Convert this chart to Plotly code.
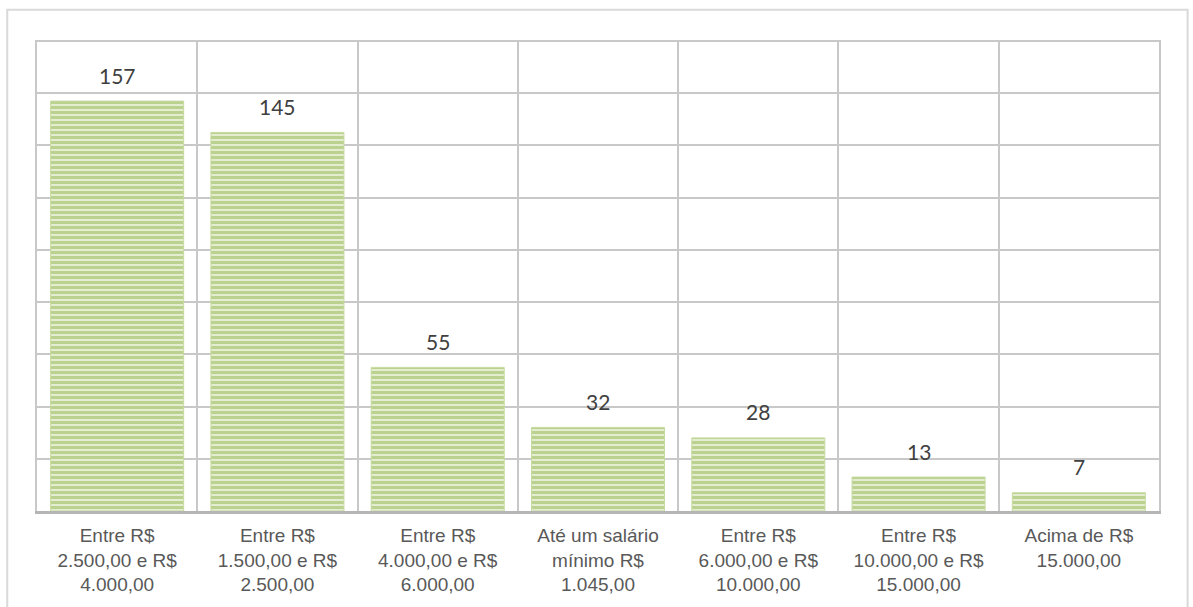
import plotly.graph_objects as go

categories = [
    "Entre R$<br>2.500,00 e R$<br>4.000,00",
    "Entre R$<br>1.500,00 e R$<br>2.500,00",
    "Entre R$<br>4.000,00 e R$<br>6.000,00",
    "Até um salário<br>mínimo R$<br>1.045,00",
    "Entre R$<br>6.000,00 e R$<br>10.000,00",
    "Entre R$<br>10.000,00 e R$<br>15.000,00",
    "Acima de R$<br>15.000,00",
]
values = [157, 145, 55, 32, 28, 13, 7]

GRID = "#c8c8c8"

fig = go.Figure()
fig.add_trace(
    go.Bar(
        x=categories,
        y=values,
        marker=dict(
            color="#e4edcf",
            line=dict(color="#c6dba0", width=1),
            pattern=dict(shape="-", fgcolor="#92b64f", bgcolor="#e4edcf",
                         size=5, solidity=0.6),
        ),
        hoverinfo="skip",
    )
)

for c, v in zip(categories, values):
    fig.add_annotation(
        x=c, y=v, text=str(v), showarrow=False, yshift=26,
        font=dict(family="Lato", size=21, color="#404040"),
    )

fig.update_layout(
    width=1193,
    height=607,
    margin=dict(l=37, r=34, t=40, b=96),
    paper_bgcolor="white",
    plot_bgcolor="white",
    showlegend=False,
    bargap=0.17,
    shapes=[
        dict(type="rect", xref="paper", yref="paper",
             x0=-0.0265, x1=1.0255, y0=-0.4, y1=1.064,
             line=dict(color="#d9d9d9", width=2), layer="below"),
    ],
)
fig.update_xaxes(
    automargin=False,
    tickson="boundaries",
    showgrid=True, gridcolor=GRID, gridwidth=1.5,
    showline=True, linecolor="#b5b5b5", linewidth=3, mirror=False,
    ticks="", ticklabelstandoff=5,
    tickfont=dict(family="Liberation Sans", size=19, color="#595959"),
)
fig.update_yaxes(
    automargin=False,
    range=[0, 180.4], dtick=20,
    showgrid=True, gridcolor=GRID, gridwidth=1.5,
    showline=True, linecolor=GRID, linewidth=1.5, mirror=True,
    showticklabels=False, ticks="", zeroline=False,
)

# drop the browser's default body margin so the figure fills the window
fig.write_html(
    "out.html",
    config={"displayModeBar": False},
    post_script="document.body.style.margin = '0';",
)
